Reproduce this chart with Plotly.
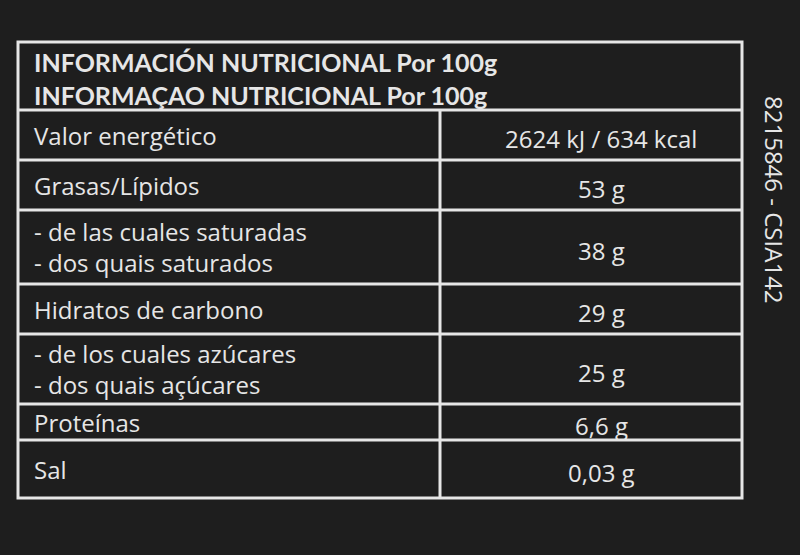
import plotly.graph_objects as go

title_lines = ["INFORMACIÓN NUTRICIONAL Por 100g", "INFORMAÇAO NUTRICIONAL Por 100g"]
labels = ["Valor energético", "Grasas/Lípidos",
          "- de las cuales saturadas<br>- dos quais saturados",
          "Hidratos de carbono",
          "- de los cuales azúcares<br>- dos quais açúcares",
          "Proteínas", "Sal"]
values = ["2624 kJ / 634 kcal", "53 g", "38 g", "29 g", "25 g", "6,6 g", "0,03 g"]
side_code = "8215846 - CSIA142"

row_h = [50, 50, 74, 50, 70, 36, 58]
x0, x1, xm = 18, 742, 440
y_top, y_head = 42, 110
fg = "#e6e6e6"

fig = go.Figure()
shapes = []
annots = []
shapes.append(dict(type="rect", x0=x0, x1=x1, y0=y_top, y1=y_head + sum(row_h),
                   line=dict(color=fg, width=3)))
annots.append(dict(x=32, y=(y_top + y_head) / 2 + 2, text="<br>".join(title_lines),
                   xanchor="left", yanchor="middle", showarrow=False, align="left",
                   font=dict(size=25, color=fg, family="Lato", weight="bold")))
y = y_head
for lab, val, h in zip(labels, values, row_h):
    shapes.append(dict(type="line", x0=x0, x1=x1, y0=y, y1=y, line=dict(color=fg, width=3)))
    shapes.append(dict(type="line", x0=xm, x1=xm, y0=y, y1=y + h, line=dict(color=fg, width=3)))
    annots.append(dict(x=32, y=y + h / 2, text=lab, xanchor="left", yanchor="middle",
                       showarrow=False, align="left",
                       font=dict(size=24, color=fg, family="Open Sans")))
    annots.append(dict(x=(xm + x1) / 2 + 10, y=y + h / 2 + 3, text=val, xanchor="center",
                       yanchor="middle", showarrow=False,
                       font=dict(size=24, color=fg, family="Open Sans")))
    y += h
annots.append(dict(x=775, y=200, text=side_code, textangle=90, showarrow=False,
                   xanchor="center", yanchor="middle",
                   font=dict(size=24, color=fg, family="Open Sans")))

fig.update_layout(width=800, height=555, margin=dict(l=0, r=0, t=0, b=0),
                  paper_bgcolor="#1e1e1e", plot_bgcolor="#1e1e1e",
                  xaxis=dict(range=[0, 800], visible=False, fixedrange=True),
                  yaxis=dict(range=[555, 0], visible=False, fixedrange=True),
                  shapes=shapes, annotations=annots, showlegend=False)
fig.write_html("out.html", config={"displayModeBar": False},
               post_script="document.body.style.margin='0';document.body.style.background='#1e1e1e';")
